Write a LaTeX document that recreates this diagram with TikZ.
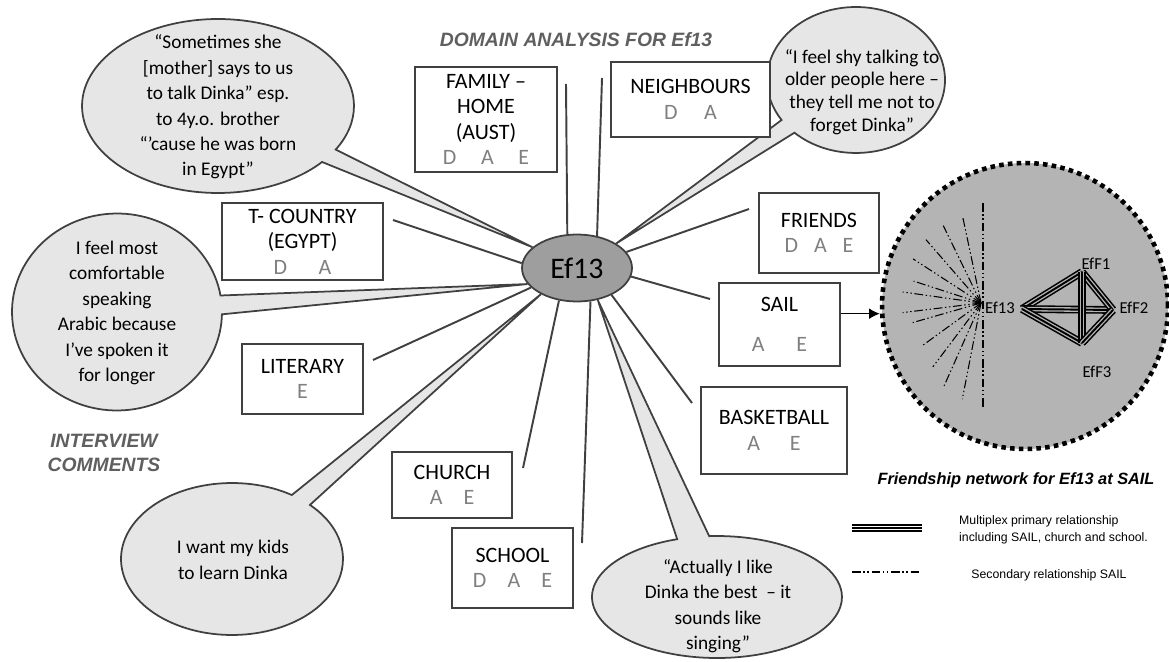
\documentclass[tikz,border=0pt]{standalone}
\usepackage{fontspec}
\setmainfont{Carlito}
\newfontfamily\arialfont{Liberation Sans}
\usepackage{xcolor}
\usepackage{tikz}
\usetikzlibrary{shapes,shapes.callouts,arrows.meta,positioning,calc}
\pgfdeclarelayer{bg}
\pgfsetlayers{bg,main}

\definecolor{boxline}{HTML}{404040}
\definecolor{bubblefill}{HTML}{E6E6E6}
\definecolor{hubfill}{HTML}{9E9E9E}
\definecolor{netfill}{HTML}{B4B4B4}
\definecolor{langgray}{HTML}{808080}
\definecolor{titlegray}{HTML}{5F5F5F}

\newcommand{\dae}[1]{{\color{langgray}#1}}

\begin{document}
\begin{tikzpicture}[
			x = 0.02cm, y = -0.02cm,
			every node/.style = {font=\fontsize{12.5}{14.5}\selectfont},
			dombox/.style = {draw=boxline, line width=1pt, fill=white, align=center, inner sep=1pt},
			spoke/.style = {draw=boxline, line width=1.1pt},
			bubble/.style = {ellipse callout, draw=boxline, line width=1pt, fill=bubblefill, inner sep=0pt},
			saying/.style = {align=center, font=\fontsize{11}{14.5}\selectfont},
			heading/.style = {text=titlegray, align=center, font=\arialfont\bfseries\itshape\fontsize{11}{14}\selectfont},
			multiplex/.style = {draw=black, line width=4.4pt,
				postaction={draw=#1, line width=2.6pt},
				postaction={draw=black, line width=1.1pt}},
			multiplex/.default = netfill,
			secondary/.style = {draw=black, line width=0.6pt, dash pattern=on 5pt off 1.5pt on 0.8pt off 1.5pt on 0.8pt off 1.5pt},
			netname/.style = {inner sep=0pt, font=\fontsize{9.5}{11}\selectfont},
			keytext/.style = {align=left, font=\arialfont\fontsize{7}{9.5}\selectfont}]

			\useasboundingbox (0,0) rectangle (1169,662);

			\node[heading] (title) at (576,40) {DOMAIN ANALYSIS FOR Ef13};
			\node[heading] (comments) at (104,453) {INTERVIEW\\COMMENTS};

			% centre
			\node[ellipse, draw=boxline, line width=1pt, fill=hubfill, minimum width=2.2cm, minimum height=1.34cm, inner sep=0pt, font=\fontsize{17}{20}\selectfont] (ef13) at (577,268) {Ef13};

			% domains
			\node[dombox, minimum width=2.84cm, minimum height=2.1cm] (family) at (486,119.5) {FAMILY –\\HOME\\(AUST)\\\dae{D\hspace{14pt}A\hspace{14pt}E}};
			\node[dombox, minimum width=3.18cm, minimum height=1.5cm] (neigh) at (690.5,99.5) {NEIGHBOURS\\\dae{D\hspace{15pt}A}};
			\node[dombox, minimum width=3.22cm, minimum height=1.54cm] (country) at (302.5,241.5) {T- COUNTRY\\(EGYPT)\\\dae{D\hspace{18pt}A}};
			\node[dombox, minimum width=2.42cm, minimum height=1.4cm] (literary) at (302.5,379) {LITERARY\\\dae{E}};
			\node[dombox, minimum width=2.4cm, minimum height=1.6cm] (friends) at (819,233) {FRIENDS\\\dae{D\hspace{9pt}A\hspace{9pt}E}};
			\node[dombox, minimum width=2.42cm, minimum height=1.66cm] (sail) at (779.5,324.5) {SAIL\\[8pt]\dae{A\hspace{18pt}E}};
			\node[dombox, minimum width=2.92cm, minimum height=1.74cm] (basket) at (774,430.5) {BASKETBALL\\\dae{A\hspace{17pt}E}};
			\node[dombox, minimum width=2.4cm, minimum height=1.32cm] (church) at (452,485) {CHURCH\\\dae{A\hspace{12pt}E}};
			\node[dombox, minimum width=2.42cm, minimum height=1.6cm] (school) at (512.5,568) {SCHOOL\\\dae{D\hspace{12pt}A\hspace{12pt}E}};

			\coordinate (famEnd) at (566,84);
			\coordinate (neighEnd) at (602,78);
			\coordinate (countryEnd) at (393,220);
			\coordinate (literaryEnd) at (373,360);
			\coordinate (friendsEnd) at (749,209);
			\coordinate (sailEnd) at (710,299);
			\coordinate (basketEnd) at (692,403);
			\coordinate (churchEnd) at (523,468);
			\coordinate (schoolEnd) at (582,543);

			\foreach \a/\e in {106/famEnd, 58/neighEnd, 175/countryEnd, 203/literaryEnd, 18/friendsEnd,
				351/sailEnd, 322/basketEnd, 241/churchEnd, 292/schoolEnd}
				\draw[spoke] (ef13.\a) -- (\e);

			% interview comments
			\begin{pgfonlayer}{bg}
				\node[bubble, minimum width=5.44cm, minimum height=3.48cm, callout pointer arc=10, callout absolute pointer={(ef13.155)}] (qHome) at (218,106) {};
				\node[bubble, minimum width=4.2cm, minimum height=3.94cm, callout pointer arc=11, callout absolute pointer={(ef13.198)}] (qArabic) at (117,312) {};
				\node[bubble, minimum width=4.44cm, minimum height=3.04cm, callout pointer arc=12, callout absolute pointer={(ef13.216)}] (qKids) at (232,559) {};
				\node[bubble, minimum width=5cm, minimum height=2.44cm, callout pointer arc=15, callout absolute pointer={(ef13.303)}] (qSing) at (717,597) {};
				\node[bubble, minimum width=3.56cm, minimum height=2.92cm, callout pointer arc=13, callout absolute pointer={(ef13.32)}] (qShy) at (856,80) {};
			\end{pgfonlayer}

			\node[saying] (tHome) at (218,107) {“Sometimes she\\{[mother]} says to us\\to talk Dinka” esp.\\to 4y.o. brother\\“’cause he was born\\in Egypt”};
			\node[saying] (tArabic) at (117,313) {I feel most\\comfortable\\speaking\\Arabic because\\I’ve spoken it\\for longer};
			\node[saying] (tKids) at (233,560) {I want my kids\\to learn Dinka};
			\node[saying] (tSing) at (718,606) {“Actually I like\\Dinka the best\ \ – it\\sounds like\\singing”};
			\node[saying, font=\fontsize{11}{13}\selectfont] (tShy) at (862,92) {“I feel shy talking to\\older people here –\\they tell me not to\\forget Dinka”};

			% friendship network
			\node[circle, draw=black, fill=netfill, line width=2.6pt, dash pattern=on 2.6pt off 2.4pt, minimum size=5.72cm, inner sep=0pt] (net) at (1025,306) {};
			\draw[-{Latex[length=6pt,width=6pt]}, line width=0.6pt] (sail.10) -- (sail.10 -| net.west);

			\coordinate (hub) at (981,303);
			\coordinate (vTop) at (983,203);
			\coordinate (vBot) at (983,408);
			\draw[secondary] (vTop) -- (vBot);
			\foreach \a/\r in {102/89, 116/86, 131/84, 147/81, 162/71, 172/79, 187/79, 196/71, 216/72, 233/80, 246/93, 259/98}
				\draw[secondary] (hub) -- ++(-\a:\r);

			\node[netname] (n13) at (1000,308) {Ef13};
			\node[netname] (nF1) at (1096,264) {EfF1};
			\node[netname] (nF2) at (1134,308) {EfF2};
			\node[netname] (nF3) at (1097,372) {EfF3};

			\coordinate (e13) at (1022,309);
			\coordinate (f1) at (1082,272);
			\coordinate (f2) at (1113,310);
			\coordinate (f3) at (1082,343);
			\foreach \p/\q in {e13/f1, e13/f2, e13/f3, f1/f2, f1/f3, f2/f3}
				\draw[multiplex] (\p) -- (\q);

			% key
			\node[font=\arialfont\bfseries\itshape\fontsize{9.3}{11}\selectfont] (netTitle) at (1016,480) {Friendship network for Ef13 at SAIL};
			\coordinate (keyMulA) at (852,528);
			\coordinate (keyMulB) at (922,528);
			\draw[multiplex=white] (keyMulA) -- (keyMulB);
			\node[keytext, anchor=west] (keyMul) at (953,530) {Multiplex primary relationship\\including SAIL, church and school.};
			\coordinate (keySecA) at (852,572);
			\coordinate (keySecB) at (920,572);
			\draw[secondary] (keySecA) -- (keySecB);
			\node[keytext] (keySec) at (1049,575) {Secondary relationship SAIL};

		\end{tikzpicture}
\end{document}
